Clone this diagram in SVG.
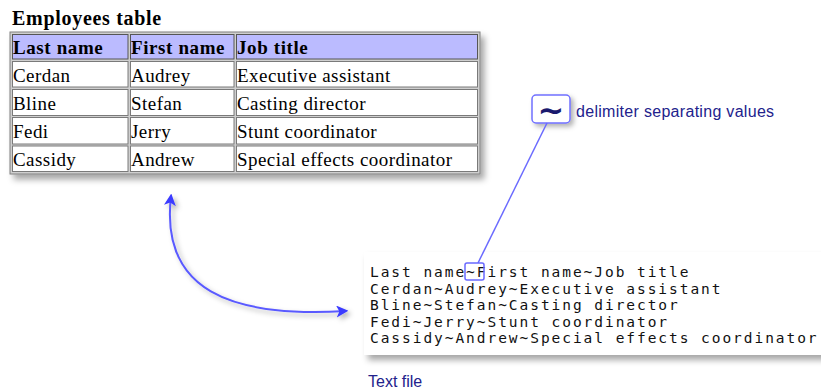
<svg xmlns="http://www.w3.org/2000/svg" width="821" height="391" viewBox="0 0 821 391">
<style>
.title{font-family:"Liberation Serif",serif;font-weight:bold;font-size:20px;letter-spacing:0.7px;fill:#000}
.th{font-family:"Liberation Serif",serif;font-weight:bold;font-size:19px;letter-spacing:0.6px;fill:#000}
.td{font-family:"Liberation Serif",serif;font-size:19px;letter-spacing:0.45px;fill:#000}
.cell{fill:#fff;stroke:#7a7a7a;stroke-width:1}
.hcell{fill:#bbbbff;stroke:#555;stroke-width:1}
.mono{font-family:"DejaVu Sans Mono",monospace;font-size:14.5px;letter-spacing:1.95px;fill:#111}
.lbl{font-family:"Liberation Sans",Arial,sans-serif;font-size:16px;fill:#22228c}
.conn{fill:none;stroke:#5a5aff;stroke-width:2}
</style>
<defs>
<filter id="sh" x="-10%" y="-10%" width="130%" height="140%">
<feDropShadow dx="4" dy="5" stdDeviation="3" flood-color="#000" flood-opacity="0.35"/>
</filter>
<filter id="sh2" x="-30%" y="-30%" width="180%" height="180%">
<feDropShadow dx="3" dy="3" stdDeviation="2.5" flood-color="#000" flood-opacity="0.3"/>
</filter>
<marker id="ahb" viewBox="0 0 10 10" refX="8" refY="5" markerWidth="12" markerHeight="12" orient="auto-start-reverse" markerUnits="userSpaceOnUse">
<path d="M0,0 L10,5 L0,10 L2.5,5 Z" fill="#3a3aff"/>
</marker>
</defs>

<g id="employees-table">
<text class="title" x="12" y="25">Employees table</text>
<rect x="10" y="32" width="470" height="142" fill="#cfcfcf" stroke="#808080" stroke-width="1" filter="url(#sh)"/>
<rect class="hcell" x="12.5" y="34.5" width="115.5" height="24.5"/>
<rect class="hcell" x="130.5" y="34.5" width="103.5" height="24.5"/>
<rect class="hcell" x="236.5" y="34.5" width="241" height="24.5"/>
<rect class="cell" x="12.5" y="61.5" width="115.5" height="25.5"/>
<rect class="cell" x="130.5" y="61.5" width="103.5" height="25.5"/>
<rect class="cell" x="236.5" y="61.5" width="241" height="25.5"/>
<rect class="cell" x="12.5" y="89.5" width="115.5" height="26"/>
<rect class="cell" x="130.5" y="89.5" width="103.5" height="26"/>
<rect class="cell" x="236.5" y="89.5" width="241" height="26"/>
<rect class="cell" x="12.5" y="117.5" width="115.5" height="26.5"/>
<rect class="cell" x="130.5" y="117.5" width="103.5" height="26.5"/>
<rect class="cell" x="236.5" y="117.5" width="241" height="26.5"/>
<rect class="cell" x="12.5" y="146" width="115.5" height="25.5"/>
<rect class="cell" x="130.5" y="146" width="103.5" height="25.5"/>
<rect class="cell" x="236.5" y="146" width="241" height="25.5"/>
<text class="th" x="13" y="53.5">Last name</text>
<text class="th" x="131" y="53.5">First name</text>
<text class="th" x="237" y="53.5">Job title</text>
<text class="td" x="13" y="81.5">Cerdan</text>
<text class="td" x="131" y="81.5">Audrey</text>
<text class="td" x="237" y="81.5">Executive assistant</text>
<text class="td" x="13" y="109.5">Bline</text>
<text class="td" x="131" y="109.5">Stefan</text>
<text class="td" x="237" y="109.5">Casting director</text>
<text class="td" x="13" y="138">Fedi</text>
<text class="td" x="131" y="138">Jerry</text>
<text class="td" x="237" y="138">Stunt coordinator</text>
<text class="td" x="13" y="166">Cassidy</text>
<text class="td" x="131" y="166">Andrew</text>
<text class="td" x="237" y="166">Special effects coordinator</text>
</g>

<g id="text-file">
<rect x="364" y="252" width="470" height="103" fill="#fff" filter="url(#sh)"/>
<text class="mono" x="370" y="277">Last name~First name~Job title</text>
<text class="mono" x="370" y="293.6">Cerdan~Audrey~Executive assistant</text>
<text class="mono" x="370" y="310.2">Bline~Stefan~Casting director</text>
<text class="mono" x="370" y="326.8">Fedi~Jerry~Stunt coordinator</text>
<text class="mono" x="370" y="343.4">Cassidy~Andrew~Special effects coordinator</text>
<text class="lbl" x="368" y="387">Text file</text>
</g>

<g id="delimiter-callout">
<rect x="532" y="95" width="38" height="28" rx="4" fill="#fff" stroke="#7070ff" stroke-width="1.5" filter="url(#sh2)"/>
<text x="551" y="121" text-anchor="middle" font-family="DejaVu Sans, sans-serif" font-weight="bold" font-size="32" fill="#1a1a6e">~</text>
<text class="lbl" x="576" y="116.5" letter-spacing="0.3">delimiter separating values</text>
</g>

<g id="connectors">
<rect x="465" y="263" width="19" height="17" rx="2" fill="none" stroke="#6a6aff" stroke-width="1.5"/>
<line x1="547" y1="123" x2="478" y2="263" stroke="#6a6aff" stroke-width="1.5"/>
<path class="conn" d="M171,196 C160,290 230,318 346,311" marker-start="url(#ahb)" marker-end="url(#ahb)" filter="url(#sh2)"/>
</g>
</svg>
